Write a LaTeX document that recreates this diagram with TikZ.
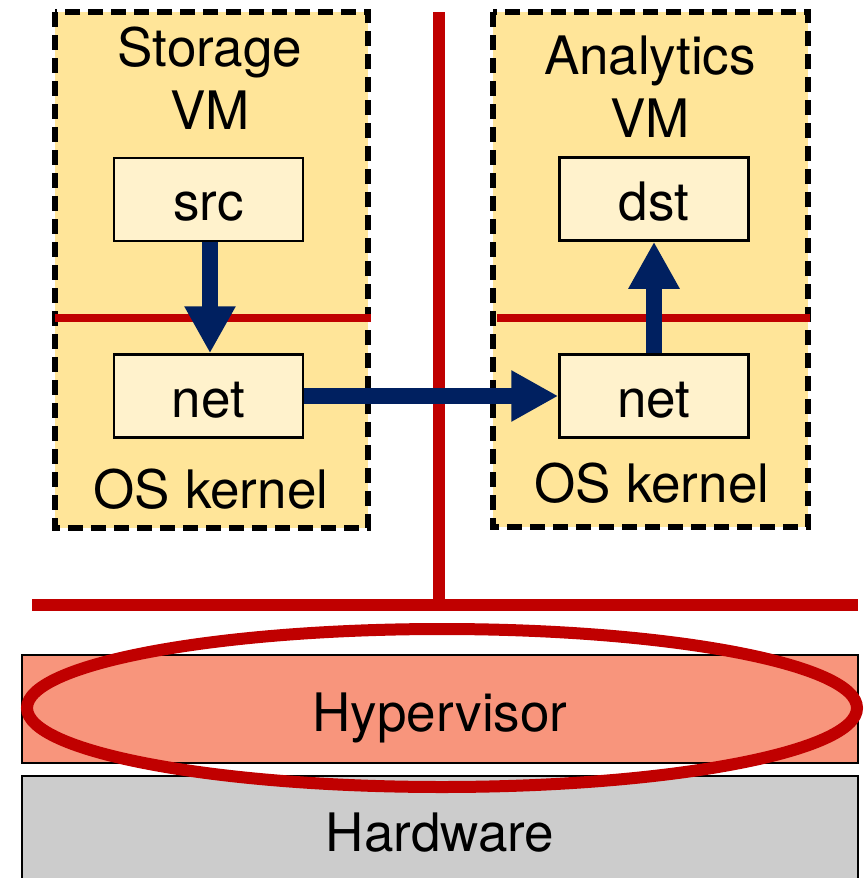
\documentclass[tikz,border=0pt]{standalone}
\usepackage{fontspec}
\setmainfont{TeX Gyre Heros}
\usetikzlibrary{arrows.meta,shapes.geometric}
\definecolor{vmfill}{HTML}{FFE599}
\definecolor{boxfill}{HTML}{FFF2CC}
\definecolor{isored}{HTML}{C00000}
\definecolor{flownavy}{HTML}{002060}
\definecolor{hypfill}{HTML}{F8957C}
\definecolor{hwfill}{HTML}{CCCCCC}
\tikzset{
  bigtext/.style={font=\fontsize{53}{60}\selectfont, inner sep=0pt, anchor=base},
  vmbox/.style={draw=black, fill=vmfill, line width=5.5pt, dash pattern=on 15pt off 8pt},
  compbox/.style={draw=black, fill=boxfill, line width=2.5pt, minimum width=189pt, minimum height=83pt,
    inner sep=0pt, text height=42pt, text depth=0pt, font=\fontsize{53}{60}\selectfont},
  layerbox/.style={draw=black, line width=2.5pt},
  isoline/.style={draw=isored, line width=8pt},
  flow/.style={draw=flownavy, line width=16pt, -{Triangle[width=48pt,length=47pt]}},
}
\begin{document}
\begin{tikzpicture}[x=1pt,y=-1pt]
  \useasboundingbox (0,0) rectangle (864,878);
  \clip (0,0) rectangle (864,878);

  % virtual machines
  \draw[vmbox] (55,12) rectangle (368,528);
  \draw[vmbox] (493,12) rectangle (808,527);

  % user / kernel boundaries inside each VM
  \coordinate (ul1) at (55,318);   \coordinate (ul2) at (371,318);
  \coordinate (ur1) at (497,318);  \coordinate (ur2) at (810,318);
  \draw[isoline] (ul1) -- (ul2);
  \draw[isoline] (ur1) -- (ur2);

  % VM labels
  \node[bigtext] (stor) at (210,66) {Storage};
  \node[bigtext] (vml)  at (210,129) {VM};
  \node[bigtext] (oskl) at (211,508) {OS kernel};
  \node[bigtext] (anal) at (650,74) {Analytics};
  \node[bigtext] (vmr)  at (650,137) {VM};
  \node[bigtext] (oskr) at (652,502) {OS kernel};

  % components
  \node[compbox] (src)  at (208.5,199.5) {src};
  \node[compbox] (netl) at (208.5,396) {net};
  \node[compbox] (dst)  at (654,199) {dst};
  \node[compbox] (netr) at (654,396) {net};

  % isolation between VMs and hypervisor
  \coordinate (vtop) at (438.5,12);
  \coordinate (vbot) at (438.5,605);
  \coordinate (hl) at (32,605);
  \coordinate (hr) at (858,605);
  \draw[draw=isored, line width=12pt] (vtop) -- (vbot);
  \draw[draw=isored, line width=12pt] (hl) -- (hr);

  % data path
  \draw[flow] (src.south -| vml) -- (netl.north -| vml);
  \draw[flow] (netl.east) -- (netr.west);
  \draw[flow] (netr.north) -- (dst.south);

  % layers
  \draw[layerbox, fill=hypfill] (22,655) rectangle (858,763);
  \draw[layerbox, fill=hwfill] (22,776) rectangle (858,900);
  \node[bigtext] (hyp) at (440,731) {Hypervisor};
  \node[bigtext] (hw)  at (440,851) {Hardware};

  % highlighted hypervisor
  \coordinate (hc) at (442,708);
  \draw[draw=isored, line width=12pt] (hc) ellipse [x radius=415pt, y radius=79pt];
\end{tikzpicture}
\end{document}
